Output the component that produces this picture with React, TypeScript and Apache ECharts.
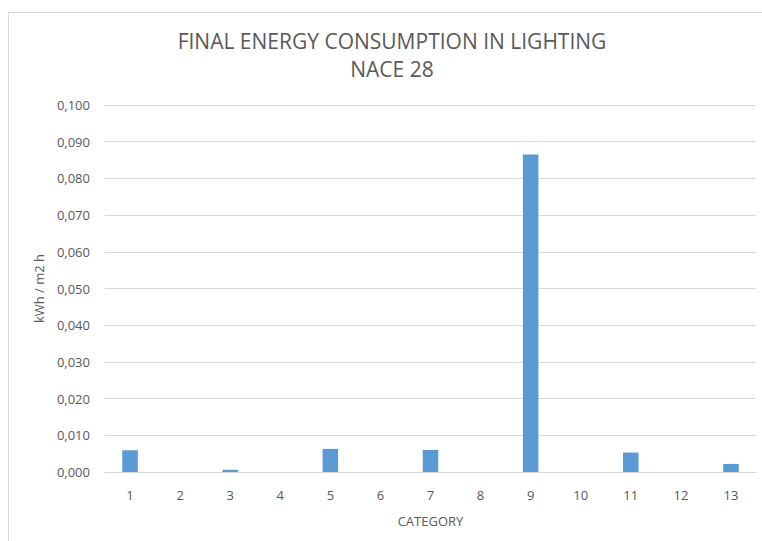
import React, { useEffect, useRef } from "react";
import * as echarts from "echarts";

const categories = ["1", "2", "3", "4", "5", "6", "7", "8", "9", "10", "11", "12", "13"];
const values = [0.0059, 0, 0.0006, 0, 0.0063, 0, 0.006, 0, 0.0865, 0, 0.0053, 0, 0.0022];
const titleLines = ["FINAL ENERGY CONSUMPTION IN LIGHTING", "NACE 28"];
const yAxisName = "kWh / m2 h";
const xAxisName = "CATEGORY";

const FONT = "'Open Sans', sans-serif";
const TXT = "#595959";

export default function App() {
  const ref = useRef<HTMLDivElement>(null);
  useEffect(() => {
    if (!ref.current) return;
    const chart = echarts.init(ref.current, undefined, { renderer: "svg" });
    chart.setOption({
      animation: false,
      backgroundColor: "#ffffff",
      textStyle: { fontFamily: FONT },
      title: {
        text: titleLines.join("\n"),
        left: 387,
        top: 22,
        textAlign: "center",
        textStyle: { fontFamily: FONT, fontSize: 21, fontWeight: "normal", color: TXT, lineHeight: 28 },
      },
      graphic: [
        {
          type: "rect",
          shape: { x: 8.5, y: 12.5, width: 800, height: 600 },
          style: { fill: "none", stroke: "#d9d9d9", lineWidth: 1 },
          silent: true,
        },
      ],
      grid: { left: 105, right: 6, top: 105, bottom: 69, containLabel: false },
      xAxis: {
        type: "category",
        data: categories,
        name: xAxisName,
        nameLocation: "middle",
        nameGap: 42,
        nameTextStyle: { fontFamily: FONT, fontSize: 13, color: TXT },
        axisLine: { show: true, lineStyle: { color: "#d9d9d9", width: 1 } },
        axisTick: { show: false },
        axisLabel: { fontFamily: FONT, fontSize: 13, color: TXT, margin: 16 },
      },
      yAxis: {
        type: "value",
        min: 0,
        max: 0.1,
        interval: 0.01,
        name: yAxisName,
        nameLocation: "middle",
        nameGap: 60,
        nameTextStyle: { fontFamily: FONT, fontSize: 13, color: TXT },
        axisLine: { show: false },
        axisTick: { show: false },
        axisLabel: {
          fontFamily: FONT,
          fontSize: 13,
          color: TXT,
          margin: 15,
          formatter: (v: number) => v.toFixed(3).replace(".", ","),
        },
        splitLine: { lineStyle: { color: "#d9d9d9", width: 1 } },
      },
      series: [
        {
          type: "bar",
          data: values,
          barWidth: "31%",
          itemStyle: { color: "#5b9bd5" },
        },
      ],
    });
    return () => chart.dispose();
  }, []);
  return (
    <div
      ref={ref}
      style={{ position: "absolute", left: 0, top: 0, width: 762, height: 541 }}
    />
  );
}
